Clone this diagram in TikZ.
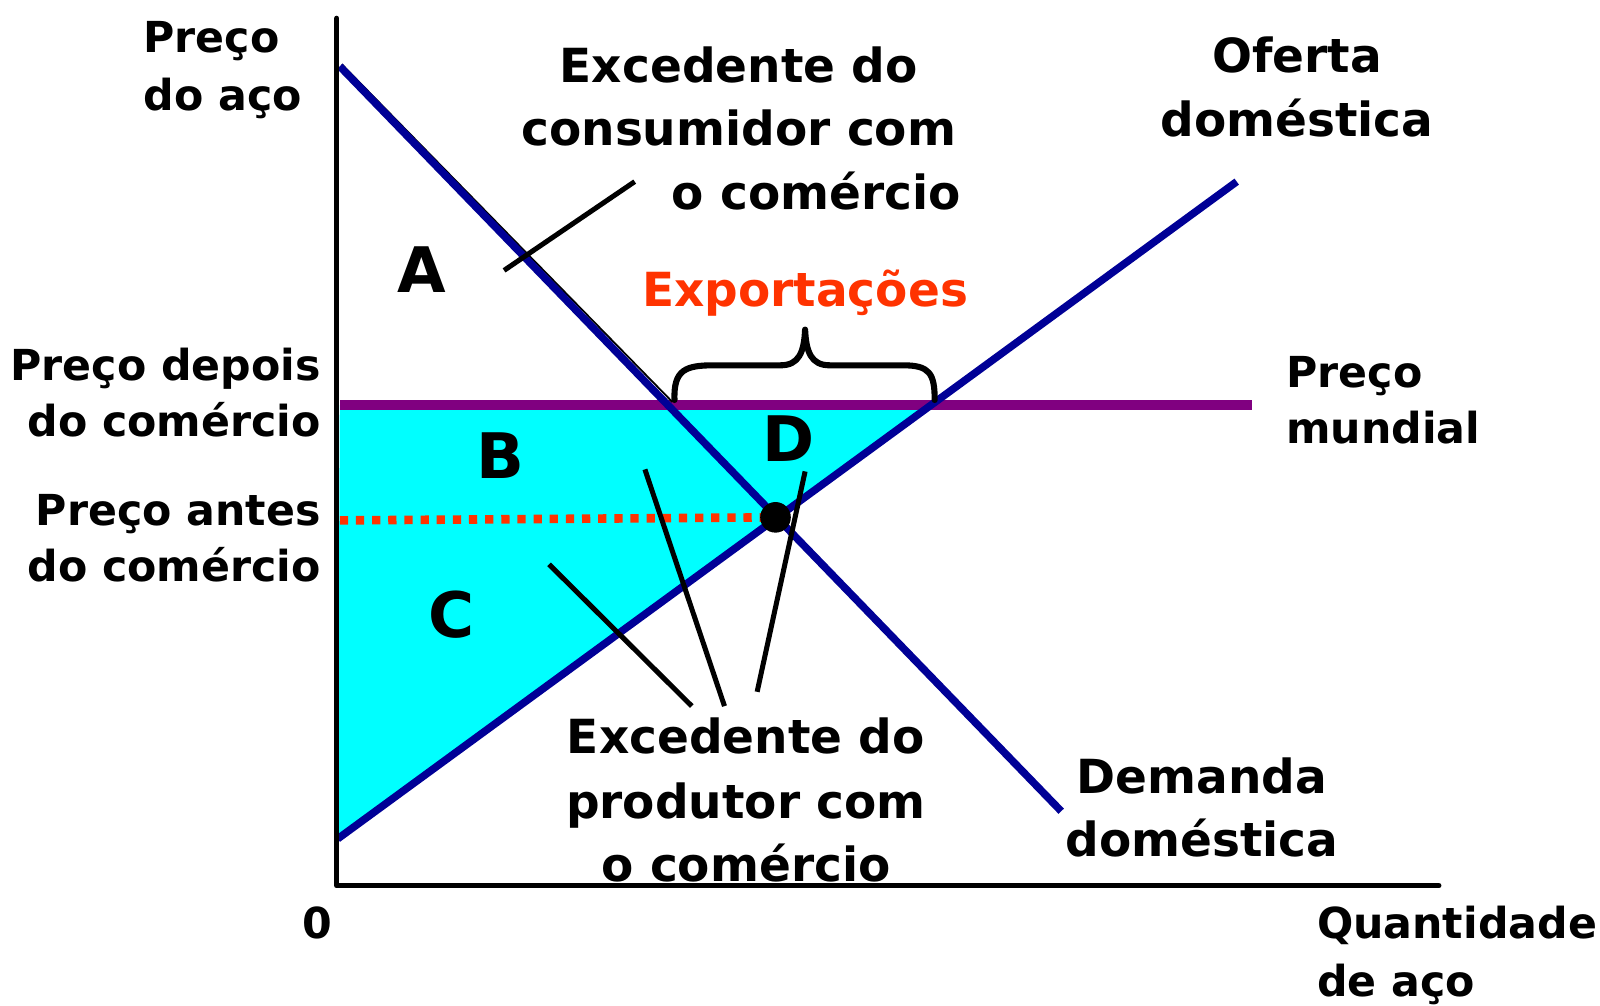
\documentclass[tikz,border=0pt]{standalone}
\usepackage{fontspec}
\setmainfont{DejaVu Sans}
\definecolor{navyc}{RGB}{0,0,150}
\definecolor{purplec}{RGB}{128,0,128}
\definecolor{cyanc}{RGB}{0,255,255}
\definecolor{expred}{RGB}{255,51,0}
\tikzset{
  axisline/.style={line width=1.5pt, line cap=round, line join=round},
  curveline/.style={navyc, line width=2.1pt},
  worldline/.style={purplec, line width=2.7pt},
  pointer/.style={black, line width=1.4pt},
  bracestyle/.style={black, line width=1.7pt, line cap=round, line join=round},
  lbl/.style={inner sep=0pt, anchor=base, font=\fontsize{11.9}{14}\selectfont\bfseries},
  biglbl/.style={inner sep=0pt, anchor=base, font=\fontsize{13.1}{15}\selectfont\bfseries},
  area/.style={inner sep=0pt, anchor=base, font=\fontsize{17.5}{20}\selectfont\bfseries},
}
\begin{document}
\begin{tikzpicture}[x=0.01cm, y=-0.01cm]
\useasboundingbox (0,0) rectangle (1568,985);
% key coordinates
\coordinate (O) at (330,868);
\coordinate (ytop) at (330,18);
\coordinate (xend) at (1410,868);
\coordinate (d0) at (333,65);
\coordinate (d1) at (1040,795);
\coordinate (s0) at (331,822);
\coordinate (s1) at (1212,178);
\coordinate (w0) at (333,397);
\coordinate (w1) at (1227,397);
\coordinate (ws) at (913,397);
\coordinate (wd) at (657,397);
\coordinate (eq) at (760,507);
\coordinate (r0) at (333,510);
% surplus area
\fill[cyanc] (w0) -- (ws) -- (s0) -- cycle;
% red dotted line
\draw[expred, line width=2.4pt, dash pattern=on 2.3pt off 2.2pt] (r0) -- (eq);
% world price
\draw[worldline] (w0) -- (w1);
% thin triangle edge
\draw[black, line width=0.5pt] (335,63) -- (659,394);
% demand and supply
\draw[curveline] (d0) -- (d1);
\draw[curveline] (s0) -- (s1);
% axes
\draw[axisline] (ytop) -- (O) -- (xend);
% equilibrium dot
\fill[black] (eq) circle (15);
% brace
\draw[bracestyle] (661,392) .. controls (660,362) and (672,358) .. (700,358)
  -- (765,358) .. controls (783,358) and (788,345) .. (789,323)
  .. controls (790,345) and (795,358) .. (813,358)
  -- (885,358) .. controls (911,358) and (916,366) .. (916,392);
% pointer lines
\coordinate (pc1) at (622,178); \coordinate (pc2) at (494,265);
\draw[pointer] (pc1) -- (pc2);
\coordinate (pp1) at (538,553); \coordinate (pp2) at (678,692);
\coordinate (pq1) at (632,460); \coordinate (pq2) at (710,692);
\coordinate (pr1) at (789,462); \coordinate (pr2) at (742,678);
\draw[pointer] (pp1) -- (pp2);
\draw[pointer] (pq1) -- (pq2);
\draw[pointer] (pr1) -- (pr2);
% axis labels
\node[lbl, anchor=base west] (py1) at (140,51) {Preço};
\node[lbl, anchor=base west] (py2) at (140,108) {do aço};
\node[lbl] (zero) at (311,920) {0};
\node[lbl, anchor=base west] (qx1) at (1290,920) {Quantidade};
\node[lbl, anchor=base west] (qx2) at (1290,977) {de aço};
\node[lbl, anchor=base east] (pd1) at (315,373) {Preço depois};
\node[lbl, anchor=base east] (pd2) at (315,428) {do comércio};
\node[lbl, anchor=base east] (pa1) at (315,515) {Preço antes};
\node[lbl, anchor=base east] (pa2) at (315,570) {do comércio};
\node[lbl, anchor=base west] (pm1) at (1260,380) {Preço};
\node[lbl, anchor=base west] (pm2) at (1260,435) {mundial};
% curve labels
\node[biglbl] (of1) at (1271,71) {Oferta};
\node[biglbl] (of2) at (1271,134) {doméstica};
\node[biglbl] (dm1) at (1178,778) {Demanda};
\node[biglbl] (dm2) at (1178,839) {doméstica};
% surplus labels
\node[biglbl] (ec1) at (724,81) {Excedente do};
\node[biglbl] (ec2) at (724,143) {consumidor com};
\node[biglbl] (ec3) at (800,205) {o comércio};
\node[biglbl] (ep1) at (731,738) {Excedente do};
\node[biglbl] (ep2) at (731,802) {produtor com};
\node[biglbl] (ep3) at (731,864) {o comércio};
\node[biglbl, text=expred] (exp) at (789,300) {Exportações};
% area letters
\node[area] (A) at (413,287) {A};
\node[area] (B) at (490,469) {B};
\node[area] (C) at (443,625) {C};
\node[area] (D) at (773,452) {D};
\end{tikzpicture}
\end{document}
